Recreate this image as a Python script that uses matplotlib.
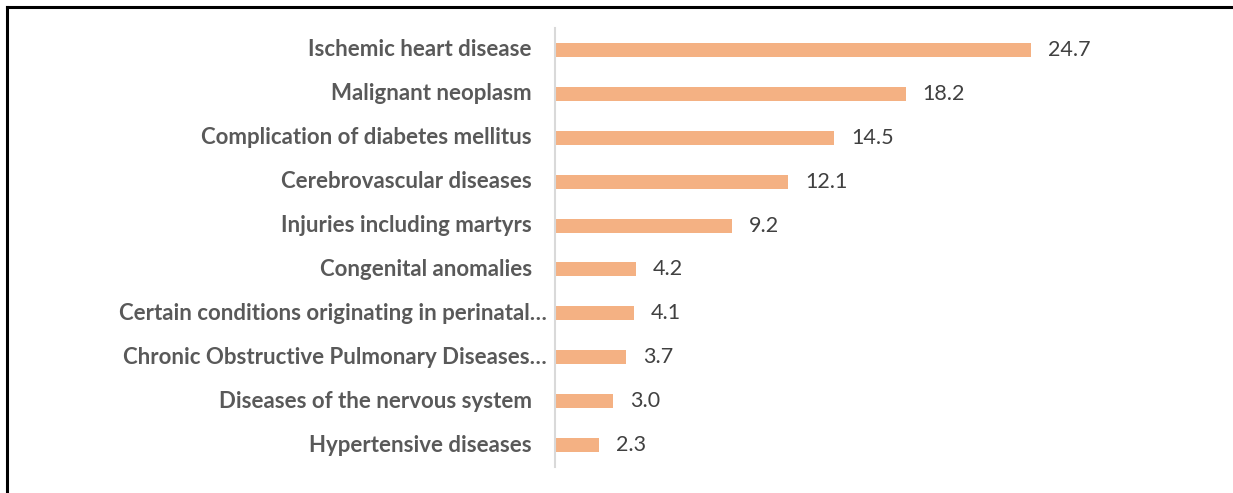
import matplotlib.pyplot as plt
from matplotlib.lines import Line2D
from matplotlib.transforms import ScaledTranslation

causes = [
    "Ischemic heart disease",
    "Malignant neoplasm",
    "Complication of diabetes mellitus",
    "Cerebrovascular diseases",
    "Injuries including martyrs",
    "Congenital anomalies",
    "Certain conditions originating in perinatal\u2026",
    "Chronic Obstructive Pulmonary Diseases\u2026",
    "Diseases of the nervous system",
    "Hypertensive diseases",
]
percent = [24.7, 18.2, 14.5, 12.1, 9.2, 4.2, 4.1, 3.7, 3.0, 2.3]

bar_color = "#F4B183"
label_color = "#595959"
value_color = "#404040"

fig = plt.figure(figsize=(12.33, 4.93), dpi=100)
ax = fig.add_axes([0.4501, 0.0527, 0.469, 0.8905])

pos = list(range(len(causes)))
ax.barh(pos, percent, height=0.32, color=bar_color)
ax.set_ylim(len(causes) - 0.5, -0.5)
ax.set_xlim(0, 30)

for s in ["top", "right", "bottom"]:
    ax.spines[s].set_visible(False)
ax.spines["left"].set_color("#D9D9D9")
ax.spines["left"].set_linewidth(1.5)
ax.set_xticks([])
ax.set_yticks([])

# category labels (truncated ones sit a bit closer to the axis, as in the source)
for i, name in enumerate(causes):
    shift = -8 if name.endswith("\u2026") else -23
    tr = ax.get_yaxis_transform() + ScaledTranslation(shift / 100, 0, fig.dpi_scale_trans)
    ax.text(0, i, name, transform=tr, ha="right", va="center",
            fontsize=16, fontweight="bold", color=label_color, family="Lato")

# value labels
off = ScaledTranslation(17 / 100, 0, fig.dpi_scale_trans)
for i, v in enumerate(percent):
    ax.text(v, i, f"{v:.1f}", transform=ax.transData + off, ha="left", va="center",
            fontsize=15.5, color=value_color, family="Lato")

# frame lines (top and left edges of the cropped border)
fig.add_artist(Line2D([6.5 / 1233, 1], [1 - 6.5 / 493, 1 - 6.5 / 493],
                      transform=fig.transFigure, color="black", linewidth=2.2))
fig.add_artist(Line2D([6.5 / 1233, 6.5 / 1233], [0, 1 - 6.5 / 493],
                      transform=fig.transFigure, color="black", linewidth=2.2))

fig.savefig("out.png", dpi=100)
